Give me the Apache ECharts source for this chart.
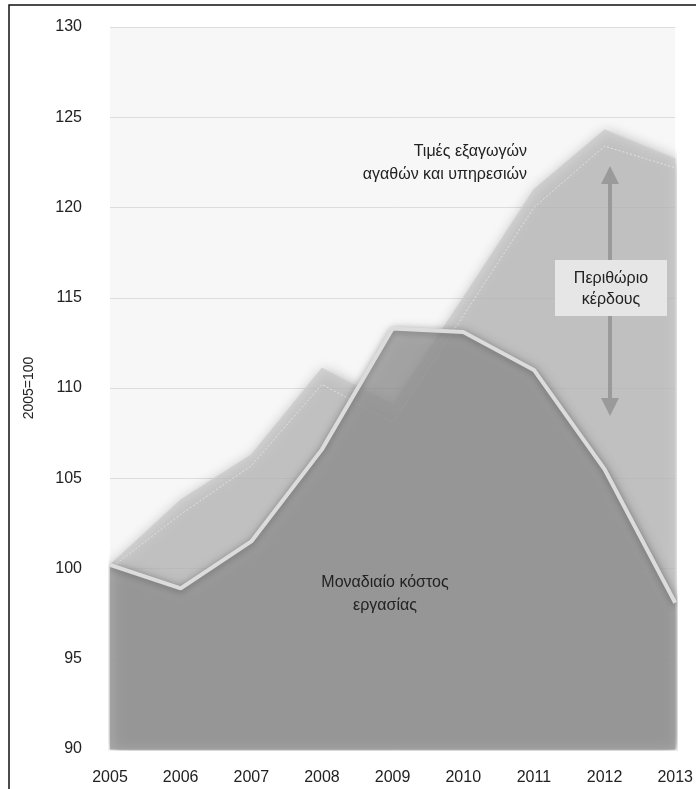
<!DOCTYPE html>
<html>
<head>
<meta charset="utf-8">
<title>Περιθώριο κέρδους</title>
<script src="https://cdn.jsdelivr.net/npm/echarts@6/dist/echarts.min.js"></script>
<style>
  html, body { margin: 0; padding: 0; background: #fff; }
  #box { width: 696px; height: 789px; }
</style>
</head>
<body>
<div id="box"></div>
<script>
// data (2005=100)
var years = ['2005', '2006', '2007', '2008', '2009', '2010', '2011', '2012', '2013'];
var exportPrices = [100.2, 103.8, 106.3, 111.1, 109.1, 115.0, 121.0, 124.3, 122.7];
var exportInner = [100.0, 103.0, 105.7, 110.2, 108.1, 114.0, 120.0, 123.4, 122.2];
var labourCost = [100.2, 98.9, 101.5, 106.6, 113.3, 113.1, 111.0, 105.5, 98.1];
var yTicks = [90, 95, 100, 105, 110, 115, 120, 125, 130];

var font = '"Liberation Sans", Arial, sans-serif';
var chart = echarts.init(document.getElementById('box'));

chart.setOption({
  animation: false,
  backgroundColor: '#fff',
  grid: {
    left: 110, right: 20, top: 27, bottom: 40,
    show: true, backgroundColor: '#f7f7f7', borderWidth: 0
  },
  xAxis: {
    type: 'category',
    data: years,
    boundaryGap: false,
    axisLine: { show: false },
    axisTick: { show: false },
    axisLabel: { color: '#222', fontSize: 16, fontFamily: font, margin: 21 }
  },
  yAxis: {
    type: 'value',
    min: yTicks[0],
    max: yTicks[yTicks.length - 1],
    interval: 5,
    name: '2005=100',
    nameLocation: 'middle',
    nameGap: 74,
    nameTextStyle: { color: '#222', fontSize: 14, fontFamily: font },
    axisLine: { show: false },
    axisTick: { show: false },
    axisLabel: { color: '#222', fontSize: 16, fontFamily: font, margin: 28 },
    splitLine: { lineStyle: { color: '#dddddd', width: 1 } }
  },
  series: [
    {
      name: 'Τιμές εξαγωγών',
      type: 'line',
      data: exportPrices,
      symbol: 'none',
      lineStyle: { color: '#d0d0d0', width: 1 },
      areaStyle: {
        origin: 'start',
        color: '#c6c6c6',
        shadowColor: 'rgba(0,0,0,0.4)', shadowBlur: 14, shadowOffsetX: 2, shadowOffsetY: 2
      },
      z: 2
    },
    {
      name: 'inner',
      type: 'line',
      data: exportInner,
      symbol: 'none',
      lineStyle: { color: '#e2e2e2', width: 1, type: [2, 2] },
      z: 3
    },
    {
      name: 'Μοναδιαίο κόστος εργασίας',
      type: 'line',
      data: labourCost,
      symbol: 'none',
      lineStyle: {
        color: '#dcdcdc', width: 4,
        shadowColor: 'rgba(0,0,0,0.3)', shadowBlur: 6, shadowOffsetY: 2
      },
      areaStyle: {
        origin: 'start',
        color: '#9b9b9b',
        shadowColor: 'rgba(0,0,0,0.4)', shadowBlur: 14, shadowOffsetX: 2, shadowOffsetY: 2
      },
      z: 4
    }
  ],
  graphic: [
    // frame: left and top edges only show in the picture
    {
      type: 'rect', z: 100, silent: true,
      shape: { x: 9, y: 5, width: 720, height: 800 },
      style: { fill: 'none', stroke: '#111', lineWidth: 1.5 }
    },
    {
      type: 'text', z: 100,
      style: {
        x: 527, y: 140,
        text: 'Τιμές εξαγωγών\nαγαθών και υπηρεσιών',
        align: 'right', fill: '#222', font: '16px ' + font, lineHeight: 23
      }
    },
    // double arrow
    {
      type: 'rect', z: 100,
      shape: { x: 608, y: 180, width: 4, height: 222 },
      style: { fill: '#9a9a9a' }
    },
    {
      type: 'polygon', z: 100,
      shape: { points: [[610, 166], [601, 184], [619, 184]] },
      style: { fill: '#9a9a9a' }
    },
    {
      type: 'polygon', z: 100,
      shape: { points: [[610, 416], [601, 398], [619, 398]] },
      style: { fill: '#9a9a9a' }
    },
    {
      type: 'rect', z: 101,
      shape: { x: 555, y: 260, width: 112, height: 56 },
      style: { fill: '#e6e6e6' }
    },
    {
      type: 'text', z: 102,
      style: {
        x: 611, y: 268,
        text: 'Περιθώριο\nκέρδους',
        align: 'center', fill: '#222', font: '16px ' + font, lineHeight: 21
      }
    },
    {
      type: 'text', z: 100,
      style: {
        x: 385, y: 571,
        text: 'Μοναδιαίο κόστος\nεργασίας',
        align: 'center', fill: '#222', font: '16px ' + font, lineHeight: 23
      }
    }
  ]
});
</script>
</body>
</html>
